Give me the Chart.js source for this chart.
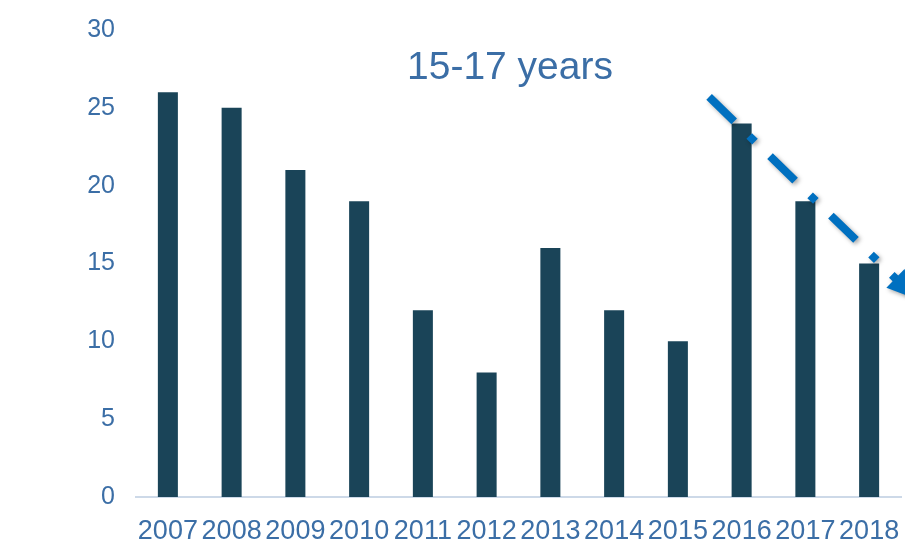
<!DOCTYPE html>
<html>
<head>
<meta charset="utf-8">
<script src="https://cdn.jsdelivr.net/npm/chart.js@4.4.0/dist/chart.umd.min.js"></script>
<style>
  html, body { margin: 0; padding: 0; background: #fff; }
  #wrap { width: 905px; height: 556px; }
</style>
</head>
<body>
<div id="wrap"><canvas id="barChart"></canvas></div>
<script>
const years = ['2007','2008','2009','2010','2011','2012','2013','2014','2015','2016','2017','2018'];
const counts = [26, 25, 21, 19, 12, 8, 16, 12, 10, 24, 19, 15];
const trendLine = [{ x: 8.49, y: 25.7 }, { x: 11.75, y: 12.7 }];
const yTicks = [0, 5, 10, 15, 20, 25, 30];
const chartTitle = '15-17 years';

const blueText = '#3b6ea6';
const ctx = document.getElementById('barChart').getContext('2d');

// title sits inside the plot area, so draw it by hand
const titlePlugin = {
  id: 'innerTitle',
  afterDraw(chart) {
    const c = chart.ctx;
    c.save();
    c.font = '39px "Liberation Sans", Arial, sans-serif';
    c.fillStyle = blueText;
    c.textAlign = 'center';
    c.textBaseline = 'middle';
    c.fillText(chartTitle, chart.chartArea.left + 374, chart.chartArea.top + 38);
    c.restore();
  }
};

// shadow + arrow head on the dashed trend line
const arrowPlugin = {
  id: 'trendArrow',
  beforeDatasetDraw(chart, args) {
    if (args.index !== 1) return;
    const c = chart.ctx;
    c.save();
    c.shadowColor = 'rgba(0,0,0,0.35)';
    c.shadowBlur = 4;
    c.shadowOffsetX = 2;
    c.shadowOffsetY = 2;
  },
  afterDatasetDraw(chart, args) {
    if (args.index !== 1) return;
    const c = chart.ctx;
    const pts = args.meta.data;
    const a = pts[pts.length - 2], b = pts[pts.length - 1];
    const ang = Math.atan2(b.y - a.y, b.x - a.x);
    const len = 30, half = 13;
    c.fillStyle = '#0070c0';
    c.beginPath();
    c.moveTo(b.x, b.y);
    c.lineTo(b.x - len * Math.cos(ang) + half * Math.sin(ang), b.y - len * Math.sin(ang) - half * Math.cos(ang));
    c.lineTo(b.x - len * Math.cos(ang) - half * Math.sin(ang), b.y - len * Math.sin(ang) + half * Math.cos(ang));
    c.closePath();
    c.fill();
    c.restore();
  }
};

const chart = new Chart(ctx, {
  type: 'bar',
  data: {
    labels: years,
    datasets: [{
      data: counts,
      backgroundColor: '#1a4458',
      barPercentage: 0.314,
      categoryPercentage: 1,
      grouped: false,
      order: 1
    }, {
      type: 'line',
      data: trendLine,
      xAxisID: 'x2',
      borderColor: '#0070c0',
      borderWidth: 8,
      borderDash: [35, 21, 8, 21],
      borderCapStyle: 'butt',
      pointRadius: 0,
      fill: false,
      clip: false,
      order: 0
    }]
  },
  options: {
    responsive: true,
    maintainAspectRatio: false,
    animation: false,
    layout: { padding: { top: 30, right: 4, bottom: 0, left: 0 } },
    scales: {
      x: {
        grid: { display: false },
        border: { display: true, color: '#cdd9e8', width: 2 },
        ticks: {
          color: blueText,
          autoSkip: false,
          maxRotation: 0,
          padding: 10,
          font: { family: 'Liberation Sans', size: 27 }
        },
        afterFit(scale) {
          scale.height = 59;
          scale.paddingLeft = 0;
          scale.paddingRight = 0;
        }
      },
      x2: {
        type: 'linear',
        display: false,
        offset: false,
        min: -0.5,
        max: 11.5
      },
      y: {
        min: 0,
        max: 30,
        grid: { display: false, drawTicks: false },
        border: { display: false },
        afterBuildTicks(scale) { scale.ticks = yTicks.map(v => ({ value: v })); },
        ticks: {
          color: blueText,
          padding: 21,
          font: { family: 'Liberation Sans', size: 25 }
        },
        afterFit(scale) {
          scale.width = 136;
          scale.paddingTop = 0;
          scale.paddingBottom = 0;
        }
      }
    },
    plugins: {
      legend: { display: false },
      tooltip: { enabled: false }
    }
  },
  plugins: [titlePlugin, arrowPlugin]
});
</script>
</body>
</html>
